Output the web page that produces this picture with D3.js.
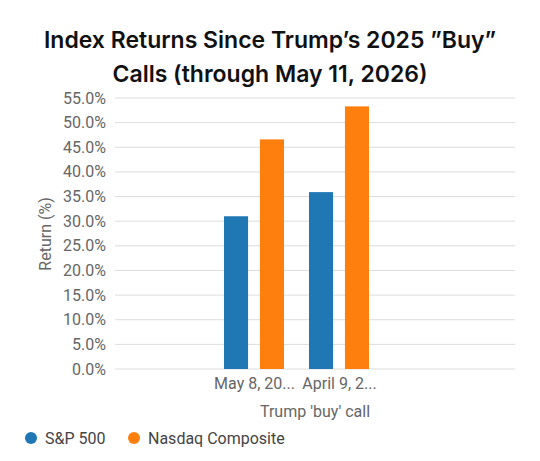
<!DOCTYPE html>
<html><head><meta charset="utf-8">
<script src="https://cdn.jsdelivr.net/npm/d3@7"></script>
<style>body{margin:0;background:#fff;font-family:Roboto,sans-serif}</style>
</head><body><div id="chart"></div>
<script>
var categories = ['May 8, 20...', 'April 9, 2...']
var series = ['S&P 500', 'Nasdaq Composite']
var sp500 = [31.0, 35.9]
var nasdaq = [46.6, 53.3]
var ticks = [0,5,10,15,20,25,30,35,40,45,50,55]
var colors = ['#1f77b4', '#ff7f0e']

var width = 540, height = 461
var svg = d3.select('#chart').append('svg').attr('width', width).attr('height', height)

svg.append('text').attr('x', 270).attr('y', 48).attr('text-anchor','middle').attr('font-family','Inter')
    .attr('font-size', 23).attr('font-weight', 600).attr('fill','#111').text('Index Returns Since Trump\u2019s 2025 \u201dBuy\u201d')
svg.append('text').attr('x', 270).attr('y', 82).attr('text-anchor','middle').attr('font-family','Inter')
    .attr('font-size', 23).attr('font-weight', 600).attr('fill','#111').text('Calls (through May 11, 2026)')

var y = d3.scaleLinear().domain([0, 55]).range([369, 98])
var x0 = d3.scaleBand().domain(categories).range([212, 382])
var x1 = d3.scaleBand().domain(series).range([12, 72]).paddingInner(0.33)

// grid
svg.selectAll('.grid').data(ticks).enter().append('line')
    .attr('x1', 115).attr('x2', 515)
    .attr('y1', function(d){ return y(d) }).attr('y2', function(d){ return y(d) })
    .attr('stroke', '#ddd')

svg.selectAll('.ylab').data(ticks).enter().append('text')
    .attr('x', 106).attr('y', function(d){ return y(d) + 5.5 })
    .attr('text-anchor','end').attr('font-size', 16).attr('fill','#666')
    .text(function(d){ return d.toFixed(1) + '%' })

svg.append('text').attr('transform','translate(51,234) rotate(-90)')
    .attr('text-anchor','middle').attr('font-size', 16).attr('fill','#666').text('Return (%)')

var vals = [sp500, nasdaq]
series.forEach(function(s, si){
    svg.selectAll('.b' + si).data(vals[si]).enter().append('rect')
        .attr('x', function(d, i){ return x0(categories[i]) + x1(s) })
        .attr('y', function(d){ return y(d) })
        .attr('width', x1.bandwidth())
        .attr('height', function(d){ return y(0) - y(d) })
        .attr('fill', colors[si])
})

svg.selectAll('.xlab').data(categories).enter().append('text')
    .attr('x', function(d){ return x0(d) + x0.bandwidth()/2 })
    .attr('y', 389).attr('text-anchor','middle').attr('font-size', 16).attr('fill','#666')
    .text(function(d){ return d })

svg.append('text').attr('x', 315).attr('y', 417).attr('text-anchor','middle')
    .attr('font-size', 16).attr('fill','#666').text("Trump 'buy' call")

var lx = [25, 128]
series.forEach(function(s, i){
    svg.append('circle').attr('cx', lx[i] + 6).attr('cy', 438).attr('r', 6).attr('fill', colors[i])
    svg.append('text').attr('x', lx[i] + 20).attr('y', 444).attr('font-size', 16).attr('fill','#444').text(s)
})
</script></body></html>
